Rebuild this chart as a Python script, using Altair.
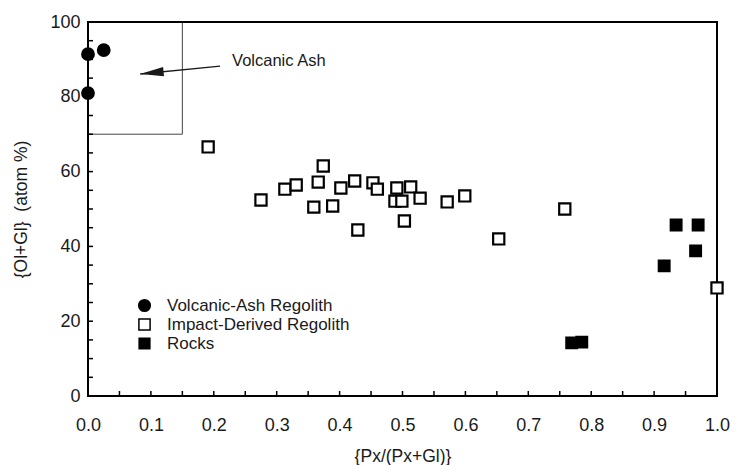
import math
import altair as alt
import pandas as pd

# --- data -------------------------------------------------------------
ash_x = [0.0, 0.025, 0.0]
ash_y = [91.4, 92.5, 81.0]

impact_x = [0.191, 0.275, 0.313, 0.331, 0.359, 0.366, 0.374, 0.389, 0.402,
            0.424, 0.429, 0.453, 0.460, 0.488, 0.491, 0.499, 0.503, 0.513,
            0.528, 0.571, 0.599, 0.653, 0.758, 1.0]
impact_y = [66.6, 52.4, 55.3, 56.4, 50.5, 57.2, 61.5, 50.8, 55.6,
            57.5, 44.4, 57.0, 55.3, 52.1, 55.6, 52.1, 46.8, 55.9,
            52.9, 51.9, 53.5, 42.0, 50.0, 28.9]

rocks_x = [0.769, 0.785, 0.916, 0.935, 0.966, 0.970]
rocks_y = [14.2, 14.4, 34.8, 45.7, 38.8, 45.7]

series_names = ["Volcanic-Ash Regolith", "Impact-Derived Regolith", "Rocks"]

# volcanic ash field (x from, x to, y from, y to)
ash_box = [0.0, 0.15, 70.0, 100.0]
arrow_from = [0.21, 88.2]
arrow_to = [0.083, 86.1]
ash_label = "Volcanic Ash"
ash_label_pos = [0.229, 89.6]

x_labels = [0.0, 0.1, 0.2, 0.3, 0.4, 0.5, 0.6, 0.7, 0.8, 0.9, 1.0]
y_labels = [0, 20, 40, 60, 80, 100]
x_ticks = [round(0.05 * i, 2) for i in range(1, 20)]
y_ticks = [5 * i for i in range(1, 20)]

# --- layout -----------------------------------------------------------
W, H = 629, 374
FONT = "Liberation Sans"
INK = "#1a1a1a"

points = pd.DataFrame({
    "x": ash_x + impact_x + rocks_x,
    "y": ash_y + impact_y + rocks_y,
    "series": [series_names[0]] * len(ash_x)
    + [series_names[1]] * len(impact_x)
    + [series_names[2]] * len(rocks_x),
})

xs = alt.Scale(domain=[0, 1], nice=False, zero=False)
ys = alt.Scale(domain=[0, 100], nice=False, zero=False)

legend = alt.Legend(orient="none", legendX=48, legendY=275,
                    labelFontSize=17, labelOffset=14, rowPadding=0, labelLimit=0)

pts = alt.Chart(points).mark_point(
    filled=True, strokeWidth=2.2, opacity=1
).encode(
    x=alt.X("x:Q", scale=xs, title="{Px/(Px+Gl)}",
            axis=alt.Axis(values=x_labels, format=".1f", ticks=False, domain=False,
                          grid=False, labelFontSize=18, labelPadding=20, labelFlush=False,
                          titleFontSize=17.5, titlePadding=13, titleFontWeight="normal")),
    y=alt.Y("y:Q", scale=ys, title="{Ol+Gl}\u00a0\u00a0(atom %)",
            axis=alt.Axis(values=y_labels, ticks=False, domain=False, grid=False,
                          labelFontSize=18, labelPadding=8, labelFlush=False,
                          titleFontSize=17.5, titlePadding=19, titleFontWeight="normal")),
    fill=alt.Fill("series:N", scale=alt.Scale(domain=series_names,
                                              range=["black", "white", "black"]),
                  title=None, legend=legend),
    stroke=alt.Stroke("series:N", scale=alt.Scale(domain=series_names,
                                                  range=["black", "black", "black"]),
                      title=None, legend=legend),
    shape=alt.Shape("series:N", scale=alt.Scale(domain=series_names,
                                                range=["circle", "square", "square"]),
                    title=None, legend=legend),
    size=alt.Size("series:N", scale=alt.Scale(domain=series_names,
                                              range=[135, 115, 121]),
                  title=None, legend=legend),
)

frame_df = pd.DataFrame({"k": [0]})
frame = alt.Chart(frame_df).mark_rect(fill=None, stroke="black", strokeWidth=2).encode(
    x=alt.value(0), x2=alt.value(W), y=alt.value(0), y2=alt.value(H)
)

xt = alt.Chart(pd.DataFrame({"t": x_ticks})).mark_rule(color="black", strokeWidth=1.5).encode(
    x=alt.X("t:Q", scale=xs), y=alt.value(H), y2=alt.value(H - 5)
)
yt = alt.Chart(pd.DataFrame({"t": y_ticks})).mark_rule(color="black", strokeWidth=1.5).encode(
    y=alt.Y("t:Q", scale=ys), x=alt.value(0), x2=alt.value(5)
)

box = alt.Chart(pd.DataFrame({"x1": [ash_box[0]], "x2": [ash_box[1]],
                              "y1": [ash_box[2]], "y2": [ash_box[3]]})).mark_rect(
    fill=None, stroke="#444", strokeWidth=1
).encode(x=alt.X("x1:Q", scale=xs), x2="x2:Q", y=alt.Y("y1:Q", scale=ys), y2="y2:Q")

arrow_df = pd.DataFrame({"x1": [arrow_from[0]], "y1": [arrow_from[1]],
                         "x2": [arrow_to[0]], "y2": [arrow_to[1]]})
arrow_line = alt.Chart(arrow_df).mark_rule(color=INK, strokeWidth=1.3).encode(
    x=alt.X("x1:Q", scale=xs), y=alt.Y("y1:Q", scale=ys), x2="x2:Q", y2="y2:Q"
)
dx_px = (arrow_to[0] - arrow_from[0]) * W
dy_px = -(arrow_to[1] - arrow_from[1]) * H / 100
head_angle = (math.degrees(math.atan2(-dy_px, -dx_px))) % 360
arrow_head = alt.Chart(arrow_df).mark_point(
    shape="M 0 0 L 2 -0.4 L 2 0.4 Z", filled=True, color=INK, size=550,
    angle=head_angle, opacity=1
).encode(x=alt.X("x2:Q", scale=xs), y=alt.Y("y2:Q", scale=ys))

label_df = pd.DataFrame({"x": [ash_label_pos[0]], "y": [ash_label_pos[1]], "t": [ash_label]})
label = alt.Chart(label_df).mark_text(
    align="left", baseline="middle", fontSize=16.5, font=FONT, color=INK
).encode(x=alt.X("x:Q", scale=xs), y=alt.Y("y:Q", scale=ys), text="t:N")

chart = alt.layer(box, arrow_line, arrow_head, label, xt, yt, frame, pts).resolve_scale(
    x="shared", y="shared"
).properties(
    width=W, height=H,
    autosize=alt.AutoSizeParams(type="none"),
    padding={"left": 88, "top": 22, "right": 19, "bottom": 69},
).configure(font=FONT).configure_view(stroke=None).configure_axis(
    labelColor=INK, titleColor=INK, labelFont=FONT, titleFont=FONT
).configure_legend(labelColor=INK, labelFont=FONT)

chart.save("out.html", embed_options={"renderer": "svg", "actions": False})
